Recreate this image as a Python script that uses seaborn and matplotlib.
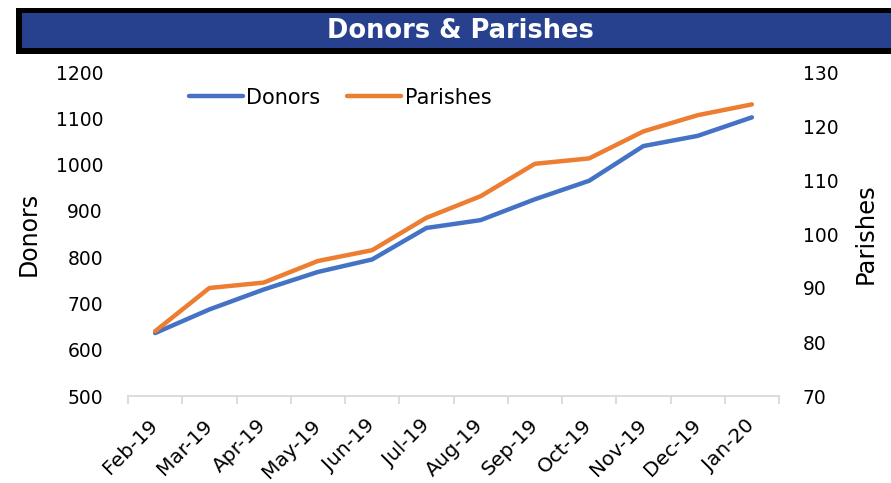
import matplotlib
matplotlib.use("Agg")
import matplotlib.pyplot as plt
import seaborn as sns
import pandas as pd
from matplotlib.patches import Rectangle
from matplotlib.lines import Line2D

months = ["Feb-19", "Mar-19", "Apr-19", "May-19", "Jun-19", "Jul-19",
          "Aug-19", "Sep-19", "Oct-19", "Nov-19", "Dec-19", "Jan-20"]
donors = [636, 687, 730, 768, 795, 863, 880, 925, 965, 1040, 1062, 1102]
parishes = [82, 90, 91, 95, 97, 103, 107, 113, 114, 119, 122, 124]

df = pd.DataFrame({"Month": months, "Donors": donors, "Parishes": parishes})
df["idx"] = range(len(months))

sns.set_style("white")
plt.rcParams["font.family"] = ["DejaVu Sans"]
plt.rcParams["text.color"] = "black"
plt.rcParams["axes.labelcolor"] = "black"
plt.rcParams["xtick.color"] = "black"
plt.rcParams["ytick.color"] = "black"

BLUE = "#4472C4"
ORANGE = "#ED7D31"

fig = plt.figure(figsize=(8.91, 4.83), dpi=100)
ax = fig.add_axes([128 / 891, 1 - 396 / 483, 651 / 891, 324 / 483])
ax2 = ax.twinx()

sns.lineplot(data=df, x="idx", y="Donors", ax=ax, color=BLUE, linewidth=3.2,
             solid_capstyle="round", solid_joinstyle="round")
sns.lineplot(data=df, x="idx", y="Parishes", ax=ax2, color=ORANGE, linewidth=3.2,
             solid_capstyle="round", solid_joinstyle="round")

ax.set_xlim(-0.5, len(months) - 0.5)
ax.set_ylim(500, 1200)
ax2.set_ylim(70, 130)
ax.set_yticks(range(500, 1201, 100))
ax2.set_yticks(range(70, 131, 10))

ax.set_xticks(range(len(months)))
ax.set_xticklabels(months, rotation=45, ha="right", va="center",
                   rotation_mode="anchor", fontsize=14.5)
ax.set_xticks([i - 0.5 for i in range(len(months) + 1)], minor=True)
ax.tick_params(axis="x", which="major", length=0, pad=19)
ax.tick_params(axis="x", which="minor", length=6, width=1.3, color="#d9d9d9",
               direction="out", bottom=True)
ax.tick_params(axis="y", length=0, pad=18, labelsize=13.5)
ax2.tick_params(axis="y", length=0, pad=17, labelsize=13.5)

for a in (ax, ax2):
    for s in ("top", "left", "right", "bottom"):
        a.spines[s].set_visible(False)
ax.spines["bottom"].set_visible(True)
ax.spines["bottom"].set_color("#d9d9d9")
ax.spines["bottom"].set_linewidth(1.3)

ax.set_xlabel("")
ax.set_ylabel("Donors", fontsize=17)
ax2.set_ylabel("Parishes", fontsize=17.5)
ax.yaxis.set_label_coords(-87 / 651, 0.5)
ax2.yaxis.set_label_coords(1 + 75 / 651, 0.5)
ax.grid(False)
ax2.grid(False)

handles = [Line2D([0], [0], color=BLUE, lw=3.2, solid_capstyle="round"),
           Line2D([0], [0], color=ORANGE, lw=3.2, solid_capstyle="round")]
ax2.legend(handles, ["Donors", "Parishes"], loc="upper left",
           bbox_to_anchor=(42 / 651, 1.01), ncol=2, frameon=False,
           fontsize=15, handlelength=2.6, handletextpad=0.15, columnspacing=1.3)

# Title bar
fig.patches.append(Rectangle((16 / 891, 1 - 54 / 483), 1, 46 / 483,
                             transform=fig.transFigure, facecolor="black",
                             edgecolor="none", zorder=0))
fig.patches.append(Rectangle((22 / 891, 1 - 48 / 483), 1, 35 / 483,
                             transform=fig.transFigure, facecolor="#27418E",
                             edgecolor="none", zorder=1))
fig.text(460 / 891, 1 - 31 / 483, "Donors & Parishes", color="white",
         fontsize=18.5, fontweight="bold", ha="center", va="center")

fig.savefig("out.png", dpi=100)
